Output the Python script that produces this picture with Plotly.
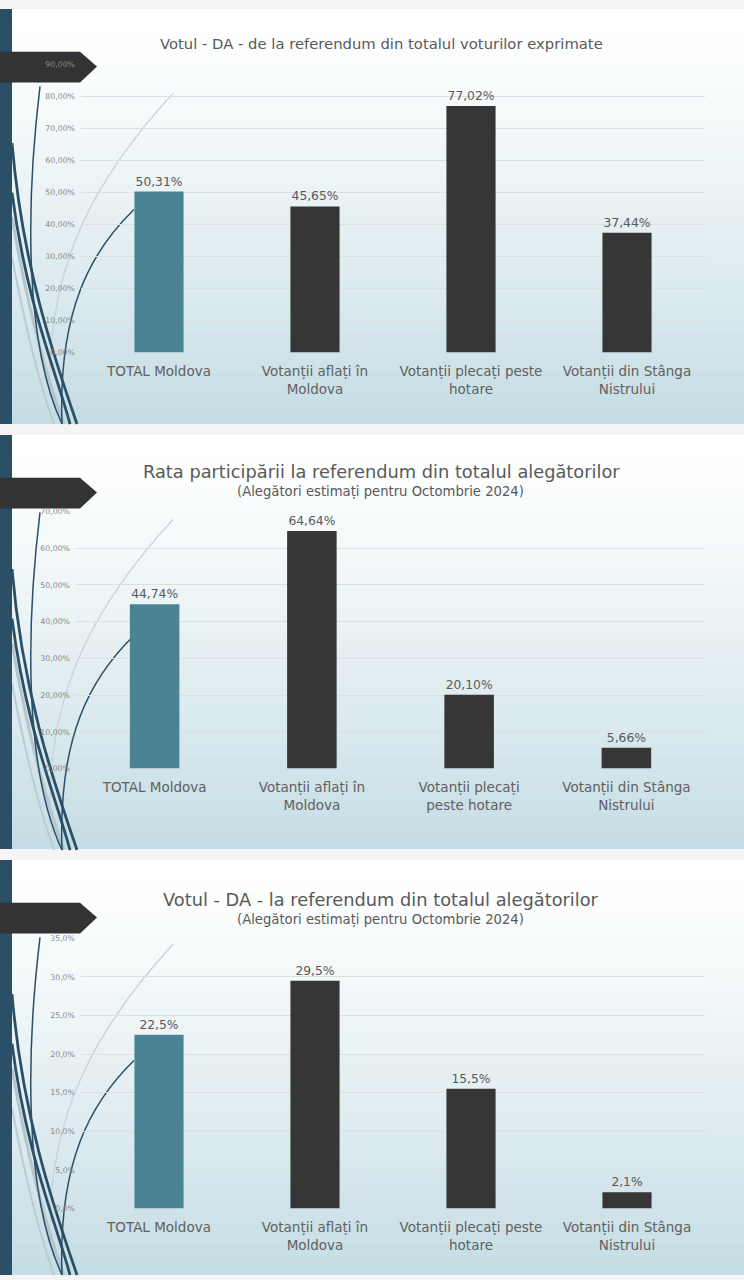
import plotly.graph_objects as go

# --- data -------------------------------------------------------------
categories_p1 = ["TOTAL Moldova", "Votanții aflați în<br>Moldova",
                 "Votanții plecați peste<br>hotare", "Votanții din Stânga<br>Nistrului"]
categories_p2 = ["TOTAL Moldova", "Votanții aflați în<br>Moldova",
                 "Votanții plecați<br>peste hotare", "Votanții din Stânga<br>Nistrului"]
categories_p3 = categories_p1

vote_da_expressed = [0.5031, 0.4565, 0.7702, 0.3744]
turnout_of_electorate = [0.4474, 0.6464, 0.2010, 0.0566]
vote_da_of_electorate = [0.225, 0.295, 0.155, 0.021]

title_p1 = "Votul - DA - de la referendum din totalul voturilor exprimate"
title_p2 = "Rata participării la referendum din totalul alegătorilor"
title_p3 = "Votul - DA - la referendum din totalul alegătorilor"
subtitle = "(Alegători estimați pentru Octombrie 2024)"

# --- page geometry (pixels) --------------------------------------------
W, H = 744, 1280
FONT = "DejaVu Sans"
TEXT = "#595959"
bar_colors = ["#4a8393", "#363636", "#363636", "#363636"]
panels = [(5, 423), (434, 851), (862, 1280)]


def px(x, y):
    return x / W, 1 - y / H


def path(points, cmd):
    # points in pixel space -> paper space svg path
    out = ""
    for c, pts in zip(cmd, points):
        out += c + " " + " ".join("%.5f,%.5f" % px(*p) for p in pts) + " "
    return out


fig = go.Figure()

panel_specs = [
    (categories_p1, vote_da_expressed, "%{y:.2%}", ".2%", 0.9, 0.1, (81, 705), (61, 351)),
    (categories_p2, turnout_of_electorate, "%{y:.2%}", ".2%", 0.7, 0.1, (76, 705), (511, 770)),
    (categories_p3, vote_da_of_electorate, "%{y:.1%}", ".1%", 0.35, 0.05, (81, 705), (941, 1213)),
]

layout_axes = {}
for i, (cats, vals, tt, tf, ymax, dt, xr, yr) in enumerate(panel_specs, start=1):
    sfx = "" if i == 1 else str(i)
    fig.add_trace(go.Bar(
        x=cats, y=vals, marker=dict(color=bar_colors, line=dict(width=0)),
        texttemplate=tt, textposition="outside", cliponaxis=False,
        textfont=dict(size=12.3, color=TEXT, family=FONT),
        xaxis="x" + sfx, yaxis="y" + sfx, showlegend=False, hoverinfo="skip",
    ))
    layout_axes["xaxis" + sfx] = dict(
        domain=[xr[0] / W, xr[1] / W], anchor="y" + sfx, range=[-0.5, 3.5],
        showgrid=False, showline=False, ticks="", fixedrange=True,
        tickfont=dict(size=13.5, color="#606060", family=FONT), ticklabelstandoff=9,
    )
    layout_axes["yaxis" + sfx] = dict(
        domain=[1 - yr[1] / H, 1 - yr[0] / H], anchor="x" + sfx, range=[0, ymax],
        dtick=dt, tickformat=tf, showgrid=True, gridcolor="#dcdfe1", gridwidth=1,
        zeroline=False, showline=False, ticks="", fixedrange=True,
        tickfont=dict(size=7.8, color="#8a8a8a", family=FONT), ticklabelstandoff=5,
    )

shapes = []
# panel backgrounds: vertical gradient from white to light blue
top_rgb, bot_rgb = (255, 255, 255), (197, 221, 228)
n = 40
for (y0, y1) in panels:
    h = (y1 - y0) / n
    for k in range(n):
        t = (k / (n - 1)) ** 1.25
        c = tuple(round(a + (b - a) * t) for a, b in zip(top_rgb, bot_rgb))
        ya, yb = y0 + k * h, y0 + (k + 1) * h + 0.6
        shapes.append(dict(type="rect", xref="paper", yref="paper", layer="below",
                           x0=0, x1=1, y0=1 - min(yb, y1) / H, y1=1 - ya / H,
                           fillcolor="rgb(%d,%d,%d)" % c, line=dict(width=0)))

for (y0, y1) in panels:
    o = y0 - 5

    def sh(pts_cmd, color, width):
        pts, cmd = pts_cmd
        pts = [[(x, y + o) for x, y in seg] for seg in pts]
        shapes.append(dict(type="path", xref="paper", yref="paper", layer="below",
                           path=path(pts, cmd), line=dict(color=color, width=width)))

    # decorative sweeping curves on the left
    sh(([[(173, 90)], [(100, 170), (45, 260), (50, 395)]], "MC"), "#c9d3d8", 1.4)
    sh(([[(12, 215)], [(30, 320), (50, 385), (64, 423)]], "MC"), "#b4c5cd", 3)
    sh(([[(12, 255)], [(28, 340), (44, 395), (54, 423)]], "MC"), "#bccbd2", 2)
    sh(([[(40, 83)], [(26, 200), (24, 340), (62, 423)]], "MC"), "#2b4f66", 1.5)
    sh(([[(12, 140)], [(22, 260), (52, 350), (77, 423)]], "MC"), "#2b4f66", 2.8)
    sh(([[(12, 190)], [(26, 300), (56, 370), (70, 423)]], "MC"), "#2b4f66", 2.8)
    sh(([[(134, 207)], [(90, 250), (58, 310), (62, 423)]], "MC"), "#2b4f66", 1.5)

    # left dark band
    shapes.append(dict(type="rect", xref="paper", yref="paper", layer="below",
                       x0=0, x1=12 / W, y0=1 - y1 / H, y1=1 - y0 / H,
                       fillcolor="#2b4f66", line=dict(width=0)))
    # dark arrow tab
    shapes.append(dict(type="path", xref="paper", yref="paper", layer="below",
                       path=path([[(0, o + 48)], [(80, o + 48)], [(97, o + 63)],
                                  [(80, o + 79)], [(0, o + 79)]], "MLLLL") + "Z",
                       fillcolor="#333333", line=dict(width=0)))

annotations = [
    dict(text=title_p1, x=381 / W, y=1 - 40 / H, font=dict(size=14.8, color=TEXT, family=FONT)),
    dict(text=title_p2, x=381 / W, y=1 - 471 / H, font=dict(size=17.8, color=TEXT, family=FONT)),
    dict(text=subtitle, x=380 / W, y=1 - 491 / H, font=dict(size=13.2, color=TEXT, family=FONT)),
    dict(text=title_p3, x=381 / W, y=1 - 902 / H, font=dict(size=17.8, color=TEXT, family=FONT)),
    dict(text=subtitle, x=380 / W, y=1 - 922 / H, font=dict(size=13.2, color=TEXT, family=FONT)),
]
for a in annotations:
    a.update(xref="paper", yref="paper", showarrow=False, xanchor="center", yanchor="middle")

fig.update_layout(
    width=W, height=H, margin=dict(l=0, r=0, t=0, b=0),
    paper_bgcolor="#f5f5f7", plot_bgcolor="rgba(0,0,0,0)",
    separators=",.", bargap=0.685,
    font=dict(family=FONT, color=TEXT),
    shapes=shapes, annotations=annotations,
    **layout_axes,
)

# drop the default page margin so the figure sits at the window's corner
fig.write_html("out.html", config={"displayModeBar": False},
               post_script="document.body.style.margin='0';")
